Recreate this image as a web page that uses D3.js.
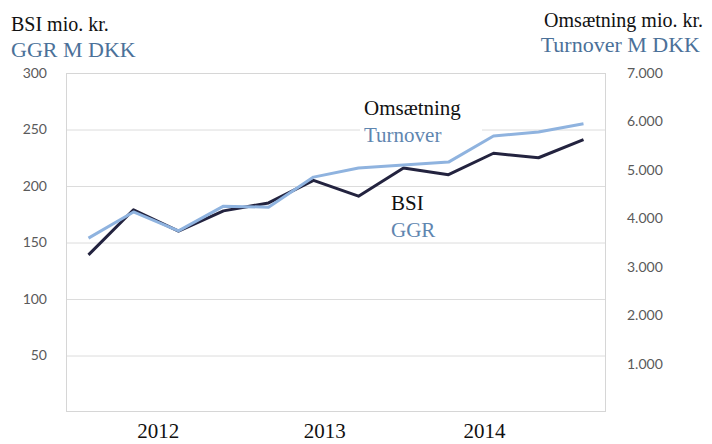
<!DOCTYPE html>
<html>
<head>
<meta charset="utf-8">
<script src="https://cdn.jsdelivr.net/npm/d3@7"></script>
<style>
  html, body { margin: 0; padding: 0; background: #fff; }
  svg { display: block; }
</style>
</head>
<body>
<svg id="chart" width="712" height="444"></svg>
<script>
// ---- data ----
const quarters = ["2012Q1","2012Q2","2012Q3","2012Q4","2013Q1","2013Q2","2013Q3","2013Q4","2014Q1","2014Q2","2014Q3","2014Q4"];
const bsi = [139, 179, 160, 178, 185, 205, 191, 216, 210, 229, 225, 241];
const turnover = [3590, 4130, 3740, 4250, 4230, 4850, 5040, 5100, 5160, 5700, 5780, 5950];
const leftTicks = [50, 100, 150, 200, 250, 300];
const rightTicks = [1000, 2000, 3000, 4000, 5000, 6000, 7000];
const yearLabels = ["2012", "2013", "2014"];
const yearAnchors = [1.55, 5.25, 8.8]; // position along the quarter index

// ---- layout ----
const L = 66, R = 606, T = 73, B = 412;
const svg = d3.select("#chart");
const serif = "'Liberation Serif', 'Times New Roman', serif";
const sans = "Lato, 'Open Sans', sans-serif";
const dark = "#23233f", light = "#8fb3df", blueText = "#4b7199", blueInner = "#5f86b0";

const x = d3.scalePoint().domain(quarters).range([L, R]).padding(0.5);
const xi = d3.scaleLinear().domain([0, quarters.length - 1]).range([x(quarters[0]), x(quarters[quarters.length - 1])]);
const yL = d3.scaleLinear().domain([0, 300]).range([B, T]);
const yR = d3.scaleLinear().domain([0, 7000]).range([B, T]);

// gridlines
svg.append("g").selectAll("line").data(leftTicks.filter(d => d < 300)).join("line")
  .attr("x1", L).attr("x2", R)
  .attr("y1", d => yL(d) + 0.5).attr("y2", d => yL(d) + 0.5)
  .attr("stroke", "#dcdcdc").attr("stroke-width", 1);

// frame
svg.append("rect").attr("x", L + 0.5).attr("y", T + 0.5).attr("width", R - L - 1).attr("height", B - T - 1)
  .attr("fill", "none").attr("stroke", "#d6d6d6").attr("stroke-width", 1);

// axes
const axL = svg.append("g").attr("transform", `translate(${L},0)`)
  .call(d3.axisLeft(yL).tickValues(leftTicks).tickSize(0).tickPadding(19));
const axR = svg.append("g").attr("transform", `translate(${R},0)`)
  .call(d3.axisRight(yR).tickValues(rightTicks).tickSize(0).tickPadding(21)
    .tickFormat(d => d3.format(",")(d).replace(/,/g, ".")));
[axL, axR].forEach(a => {
  a.select(".domain").remove();
  a.selectAll("text").attr("font-family", sans).attr("font-size", 14).attr("fill", "#5a5a5a");
});

// year labels
svg.append("g").selectAll("text").data(yearLabels).join("text")
  .attr("x", (d, i) => xi(yearAnchors[i]))
  .attr("y", 438)
  .attr("text-anchor", "middle")
  .attr("font-family", serif).attr("font-size", 21).attr("fill", "#111")
  .text(d => d);

// inline label box (white, hides gridline behind the text)
svg.append("rect").attr("x", 360).attr("y", 97).attr("width", 122).attr("height", 42).attr("fill", "#fff");

// lines
const lineL = d3.line().x((d, i) => x(quarters[i])).y(d => yL(d));
const lineR = d3.line().x((d, i) => x(quarters[i])).y(d => yR(d));
svg.append("path").datum(bsi).attr("d", lineL)
  .attr("fill", "none").attr("stroke", dark).attr("stroke-width", 3).attr("stroke-linejoin", "round");
svg.append("path").datum(turnover).attr("d", lineR)
  .attr("fill", "none").attr("stroke", light).attr("stroke-width", 3).attr("stroke-linejoin", "round");

// inline labels
svg.append("text").attr("x", 364).attr("y", 115).attr("font-family", serif).attr("font-size", 21).attr("fill", "#111").text("Omsætning");
svg.append("text").attr("x", 364).attr("y", 142).attr("font-family", serif).attr("font-size", 21).attr("fill", blueInner).text("Turnover");
svg.append("text").attr("x", 391).attr("y", 210).attr("font-family", serif).attr("font-size", 21).attr("fill", "#111").text("BSI");
svg.append("text").attr("x", 391).attr("y", 237).attr("font-family", serif).attr("font-size", 21).attr("fill", blueInner).text("GGR");

// axis titles
svg.append("text").attr("x", 11).attr("y", 31).attr("font-family", serif).attr("font-size", 20).attr("fill", "#111").text("BSI mio. kr.");
svg.append("text").attr("x", 11).attr("y", 57).attr("font-family", serif).attr("font-size", 22).attr("fill", blueText).text("GGR M DKK");
svg.append("text").attr("x", 703).attr("y", 27).attr("text-anchor", "end").attr("font-family", serif).attr("font-size", 20).attr("fill", "#111").text("Omsætning mio. kr.");
svg.append("text").attr("x", 700).attr("y", 52).attr("text-anchor", "end").attr("font-family", serif).attr("font-size", 22).attr("fill", blueText).text("Turnover M DKK");
</script>
</body>
</html>
